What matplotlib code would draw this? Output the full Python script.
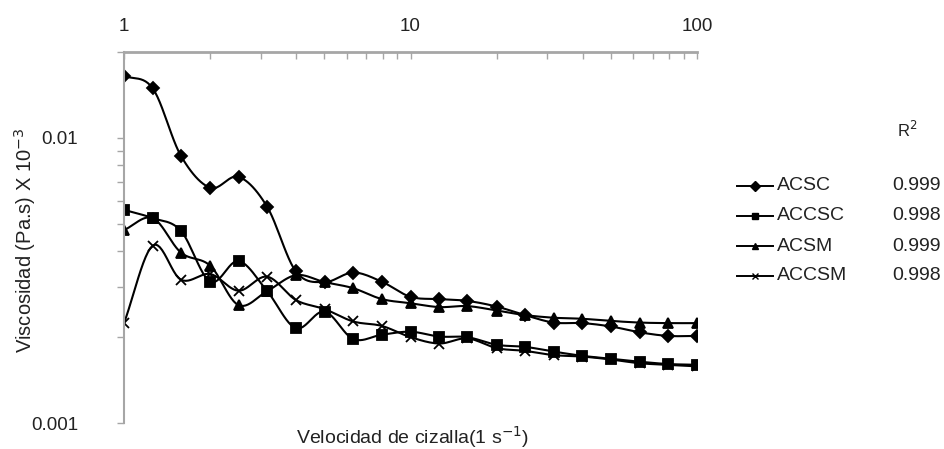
import matplotlib
import numpy as np

matplotlib.use("Agg")
import matplotlib.pyplot as plt
from matplotlib.lines import Line2D

plt.rcParams["font.family"] = ["Liberation Sans", "DejaVu Sans"]

# shear rate (1/s), 10 points per decade
shear_rate = [1, 1.26, 1.58, 2.0, 2.51, 3.16, 3.98, 5.01, 6.31, 7.94, 10,
              12.6, 15.8, 20, 25.1, 31.6, 39.8, 50.1, 63.1, 79.4, 100]

acsc = [0.0165, 0.0149, 0.00865, 0.00668, 0.0073, 0.00573, 0.0034, 0.00312,
        0.00337, 0.00313, 0.00277, 0.00272, 0.00268, 0.00256, 0.00239,
        0.00225, 0.00224, 0.00218, 0.00208, 0.00202, 0.00202]
accsc = [0.00559, 0.00523, 0.00472, 0.00313, 0.0037, 0.0029, 0.00215, 0.00246,
         0.00197, 0.00204, 0.00209, 0.00201, 0.002, 0.00188, 0.00185,
         0.00178, 0.00172, 0.00168, 0.00164, 0.00161, 0.0016]
acsm = [0.00475, 0.00523, 0.00396, 0.00356, 0.00259, 0.0029, 0.0033, 0.00312,
        0.00297, 0.00272, 0.00263, 0.00255, 0.00257, 0.00248, 0.00239,
        0.00234, 0.00232, 0.00228, 0.00225, 0.00224, 0.00224]
accsm = [0.00224, 0.00419, 0.00318, 0.00333, 0.00291, 0.00326, 0.0027, 0.00251,
         0.00227, 0.00219, 0.002, 0.0019, 0.00198, 0.00183, 0.00179,
         0.00173, 0.00171, 0.00167, 0.00162, 0.0016, 0.00158]

series_names = ["ACSC", "ACCSC", "ACSM", "ACCSM"]
r_squared = ["0.999", "0.998", "0.999", "0.998"]

GRAY = "#a6a6a6"
W, H = 944, 449


def smooth_line(x, y, n=12):
    # Catmull-Rom curve through the points in log-log space (like Excel smoothing)
    lx = np.log10(x)
    ly = np.log10(y)
    px = np.concatenate([[2 * lx[0] - lx[1]], lx, [2 * lx[-1] - lx[-2]]])
    py = np.concatenate([[2 * ly[0] - ly[1]], ly, [2 * ly[-1] - ly[-2]]])
    t = np.linspace(0, 1, n, endpoint=False)
    out_x, out_y = [], []
    for i in range(1, len(px) - 2):
        for p, out in ((px, out_x), (py, out_y)):
            p0, p1, p2, p3 = p[i - 1], p[i], p[i + 1], p[i + 2]
            out.extend(0.5 * (2 * p1 + (-p0 + p2) * t
                              + (2 * p0 - 5 * p1 + 4 * p2 - p3) * t ** 2
                              + (-p0 + 3 * p1 - 3 * p2 + p3) * t ** 3))
    out_x.append(lx[-1])
    out_y.append(ly[-1])
    return 10 ** np.array(out_x), 10 ** np.array(out_y)


fig = plt.figure(figsize=(9.44, 4.49), dpi=100)
ax = fig.add_axes([124 / W, 1 - 423 / H, (697 - 124) / W, (423 - 52) / H])

styles = [
    ("D", 6, acsc),
    ("s", 7.5, accsc),
    ("^", 7, acsm),
    ("x", 7.5, accsm),
]

for marker, size, values in styles:
    sx, sy = smooth_line(np.array(shear_rate), np.array(values))
    ax.plot(sx, sy, color="black", linewidth=1.5)
    ax.plot(shear_rate, values, linestyle="none", marker=marker,
            markersize=size, color="black", markeredgewidth=1.3)

ax.set_xscale("log")
ax.set_yscale("log")
ax.set_xlim(1, 100)
ax.set_ylim(0.001, 0.02)

ax.xaxis.set_ticks_position("top")
ax.set_xticks([1, 10, 100])
ax.set_xticklabels(["1", "10", "100"])
ax.set_yticks([0.001, 0.01])
ax.set_yticklabels(["0.001", "0.01"])
ax.yaxis.set_minor_formatter(matplotlib.ticker.NullFormatter())

ax.tick_params(axis="x", which="both", direction="in", length=5, width=1,
               color=GRAY, labelsize=13.5, pad=12, labelcolor="#222222")
ax.tick_params(axis="y", which="both", direction="out", length=5, width=1,
               color=GRAY, labelsize=13.5, pad=28, labelcolor="#222222")

for side in ["right", "bottom"]:
    ax.spines[side].set_visible(False)
ax.spines["top"].set_color(GRAY)
ax.spines["top"].set_linewidth(2)
ax.spines["left"].set_color(GRAY)
ax.spines["left"].set_linewidth(1.5)

fig.text(413 / W, 1 - 437 / H, "Velocidad de cizalla(1 s$^{-1}$)",
         fontsize=14, ha="center", va="center", color="#222222")
fig.text(25 / W, 1 - 240 / H, "Viscosidad (Pa.s) X 10$^{-3}$", rotation=90,
         fontsize=14.5, ha="center", va="center", color="#222222")

# legend drawn by hand so the rows line up with the R² column
fig.text(897 / W, 1 - 130 / H, "R$^2$", fontsize=12, ha="left",
         va="center", color="#222222")
for i, (name, val) in enumerate(zip(series_names, r_squared)):
    y = 1 - (186 + 30 * i) / H
    marker = styles[i][0]
    fig.add_artist(Line2D([737 / W, 773 / W], [y, y], color="black",
                          linewidth=1.4))
    fig.add_artist(Line2D([755 / W], [y], color="black", marker=marker,
                          markersize=5, markeredgewidth=1))
    fig.text(777 / W, y, name, fontsize=14, ha="left", va="center",
             color="#222222")
    fig.text(941 / W, y, val, fontsize=14, ha="right", va="center",
             color="#222222")

plt.savefig("out.png", dpi=100)
